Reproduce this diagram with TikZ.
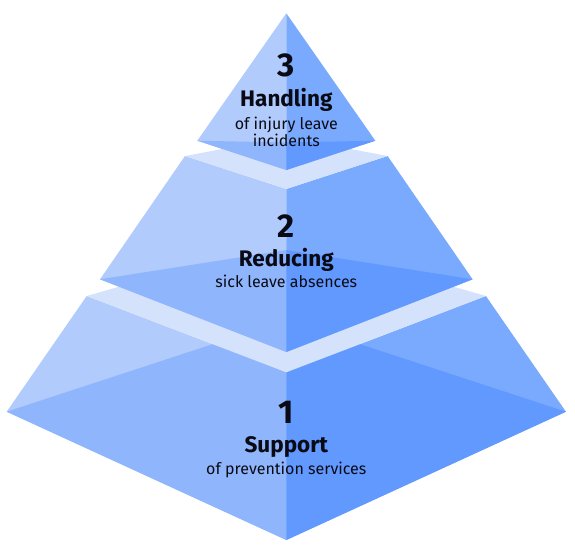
\documentclass[tikz,border=0pt]{standalone}
\usepackage{fontspec}
\setmainfont{Fira Sans}
\definecolor{faceL}{HTML}{B0CBFC}
\definecolor{faceLd}{HTML}{8FB6FD}
\definecolor{faceR}{HTML}{7AAAFE}
\definecolor{faceRd}{HTML}{6199FF}
\definecolor{band}{HTML}{D4E2FC}
\definecolor{txt}{HTML}{0A0A14}
\tikzset{
  num/.style={anchor=base, text=txt, font=\bfseries\fontsize{33}{33}\selectfont, inner sep=0pt},
  ttl/.style={anchor=base, text=txt, font=\bfseries\fontsize{22.5}{22.5}\selectfont, inner sep=0pt},
  sub/.style={anchor=base, text=txt, font=\fontsize{16}{16}\selectfont, inner sep=0pt},
}
\begin{document}
\begin{tikzpicture}[x=1pt,y=-1pt]
\useasboundingbox (0,0) rectangle (575,546);
\def\cx{286.3}
% level 1
\coordinate (L1L) at (6.7,411.7);
\coordinate (L1F) at (\cx,540);
\coordinate (L1R) at (565.9,411.7);
\coordinate (L1B) at (\cx,320);
\coordinate (T1L) at (86.7,296);
\coordinate (T1F) at (\cx,372.3);
\coordinate (T1R) at (485.9,296);
\coordinate (T1B) at (\cx,238.6);
% level 2
\coordinate (L2L) at (100,279.3);
\coordinate (L2F) at (\cx,352);
\coordinate (L2R) at (472.6,279.3);
\coordinate (L2B) at (\cx,250);
\coordinate (T2L) at (185,156);
\coordinate (T2F) at (\cx,189);
\coordinate (T2R) at (387.6,156);
\coordinate (T2B) at (\cx,137);
% level 3
\coordinate (L3L) at (197.3,140.7);
\coordinate (L3F) at (\cx,170);
\coordinate (L3R) at (375.3,140.7);
\coordinate (L3B) at (\cx,142.5);
\coordinate (A) at (\cx,13.3);

% ---- level 1
\fill[faceL] (L1L) -- (L1F) -- (T1F) -- (T1L) -- cycle;
\fill[faceR] (L1F) -- (L1R) -- (T1R) -- (T1F) -- cycle;
\fill[faceLd] (L1L) -- (L1F) -- (L1B) -- cycle;
\fill[faceRd] (L1R) -- (L1F) -- (L1B) -- cycle;
\fill[band] (T1L) -- (T1F) -- (T1R) -- (T1B) -- cycle;
% ---- level 2
\fill[faceL] (L2L) -- (L2F) -- (T2F) -- (T2L) -- cycle;
\fill[faceR] (L2F) -- (L2R) -- (T2R) -- (T2F) -- cycle;
\fill[faceLd] (L2L) -- (L2F) -- (L2B) -- cycle;
\fill[faceRd] (L2R) -- (L2F) -- (L2B) -- cycle;
\fill[band] (T2L) -- (T2F) -- (T2R) -- (T2B) -- cycle;
% ---- level 3
\fill[faceL] (L3L) -- (L3F) -- (A) -- cycle;
\fill[faceR] (L3F) -- (L3R) -- (A) -- cycle;
\fill[faceLd] (L3L) -- (L3F) -- (L3B) -- cycle;
\fill[faceRd] (L3R) -- (L3F) -- (L3B) -- cycle;

% ---- texts
\node[num] (n3) at (\cx,76.7) {3};
\node[ttl] (h3) at (\cx,106) {Handling};
\node[sub] (s3a) at (\cx,129.5) {of injury leave};
\node[sub] (s3b) at (\cx,146.7) {incidents};
\node[num] (n2) at (\cx,237.3) {2};
\node[ttl] (h2) at (\cx,266.7) {Reducing};
\node[sub] (s2) at (\cx,287.7) {sick leave absences};
\node[num] (n1) at (\cx,423.3) {1};
\node[ttl] (h1) at (\cx,452.7) {Support};
\node[sub] (s1) at (\cx,474) {of prevention services};
\end{tikzpicture}
\end{document}
